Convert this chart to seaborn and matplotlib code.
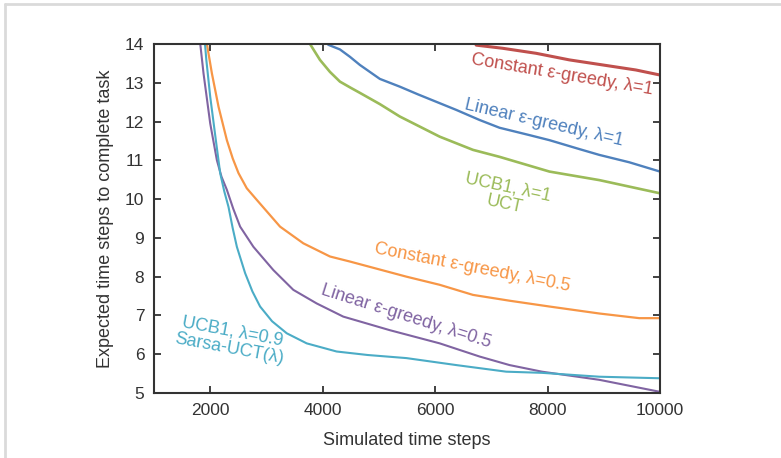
import matplotlib
matplotlib.use("Agg")
import matplotlib.pyplot as plt
from matplotlib.lines import Line2D
import seaborn as sns
import pandas as pd

# ---- data ----
red_x = [6700, 6733, 7200, 7797, 8389, 8980, 9571, 10000]
red_y = [14.05, 13.97, 13.89, 13.76, 13.59, 13.46, 13.33, 13.20]

blue_x = [4050, 4100, 4307, 4485, 4662, 5017, 5372, 5697, 6377, 6792, 7146, 7679, 8034, 8566, 8921, 9453, 10000]
blue_y = [14.10, 13.98, 13.86, 13.67, 13.46, 13.10, 12.90, 12.70, 12.30, 12.04, 11.84, 11.65, 11.52, 11.29, 11.14, 10.95, 10.71]

green_x = [3740, 3775, 3952, 4130, 4307, 4500, 4662, 5017, 5372, 6082, 6673, 7146, 8034, 8921, 10000]
green_y = [14.10, 14.00, 13.59, 13.28, 13.03, 12.87, 12.74, 12.45, 12.13, 11.61, 11.27, 11.09, 10.71, 10.49, 10.15]

orange_x = [1920, 1941, 2030, 2148, 2296, 2400, 2503, 2650, 2828, 3242, 3656, 4130, 4485, 5490, 6082, 6673, 7324, 8034, 8921, 9631, 10000]
orange_y = [14.30, 14.00, 13.24, 12.38, 11.52, 11.05, 10.67, 10.28, 9.98, 9.29, 8.86, 8.52, 8.39, 8.00, 7.79, 7.53, 7.38, 7.23, 7.05, 6.93, 6.93]

purple_x = [1800, 1881, 2000, 2119, 2200, 2296, 2410, 2532, 2768, 3123, 3478, 3893, 4366, 5194, 6082, 6792, 7324, 7900, 8921, 10000]
purple_y = [14.30, 13.24, 11.95, 11.00, 10.58, 10.24, 9.75, 9.29, 8.77, 8.17, 7.66, 7.31, 6.97, 6.62, 6.28, 5.94, 5.72, 5.55, 5.34, 5.03]

cyan_x = [1890, 1930, 2000, 2100, 2177, 2250, 2325, 2400, 2474, 2621, 2750, 2887, 3100, 3361, 3716, 4248, 4800, 5490, 6377, 7264, 7900, 8921, 10000]
cyan_y = [14.30, 13.60, 12.64, 11.52, 10.67, 10.20, 9.80, 9.25, 8.77, 8.09, 7.62, 7.23, 6.85, 6.54, 6.28, 6.07, 5.98, 5.90, 5.72, 5.55, 5.52, 5.42, 5.38]

x_ticks = [2000, 4000, 6000, 8000, 10000]
y_ticks = [5, 6, 7, 8, 9, 10, 11, 12, 13, 14]

series = [
    ("Constant ε-greedy, λ=1", red_x, red_y, "#C0504D", 2.2),
    ("Linear ε-greedy, λ=1", blue_x, blue_y, "#4F81BD", 1.7),
    ("UCB1, λ=1\nUCT", green_x, green_y, "#9BBB59", 1.9),
    ("Constant ε-greedy, λ=0.5", orange_x, orange_y, "#F79646", 1.6),
    ("Linear ε-greedy, λ=0.5", purple_x, purple_y, "#8064A2", 1.5),
    ("UCB1, λ=0.9\nSarsa-UCT(λ)", cyan_x, cyan_y, "#4BACC6", 1.5),
]

# label placement (data coords) and rotation
label_pos = [
    (8264, 13.20, -9.5),
    (7930, 11.96, -13),
    (7260, 10.08, -12),
    (6660, 8.22, -11),
    (5480, 6.96, -17.5),
    (2373, 6.37, -10.5),
]

sns.set_style("ticks")
plt.rcParams["font.family"] = ["Liberation Sans", "DejaVu Sans"]

fig = plt.figure(figsize=(7.81, 4.58), dpi=100)
ax = fig.add_axes([154 / 781, 1 - 393 / 458, (660 - 154) / 781, (393 - 44) / 458])

for (name, xs, ys, col, lw) in series:
    df = pd.DataFrame({"x": xs, "y": ys})
    sns.lineplot(data=df, x="x", y="y", ax=ax, color=col, linewidth=lw,
                 estimator=None, sort=False)

for (name, xs, ys, col, lw), (tx, ty, rot) in zip(series, label_pos):
    ax.text(tx, ty, name, color=col, fontsize=13, rotation=rot,
            rotation_mode="anchor", ha="center", va="center",
            multialignment="center", linespacing=1.05)

ax.set_xlim(1000, 10000)
ax.set_ylim(5, 14)
ax.set_xticks(x_ticks)
ax.set_yticks(y_ticks)
ax.tick_params(direction="in", length=5, width=1.3, top=True, right=True,
               labelsize=12.5, colors="#333333", labelcolor="#333333", pad=7)
for sp in ax.spines.values():
    sp.set_color("#333333")
    sp.set_linewidth(1.5)
ax.set_xlabel("Simulated time steps", fontsize=13, color="#333333", labelpad=10)
ax.set_ylabel("Expected time steps to complete task", fontsize=13, color="#333333", labelpad=8)

# light gray frame (top and left)
fx = 5 / 781
fy = 1 - 4 / 458
fig.add_artist(Line2D([fx, fx], [0, fy], transform=fig.transFigure, color="#DADADA", linewidth=2))
fig.add_artist(Line2D([fx, 1], [fy, fy], transform=fig.transFigure, color="#DADADA", linewidth=2))

fig.savefig("out.png", dpi=100)
